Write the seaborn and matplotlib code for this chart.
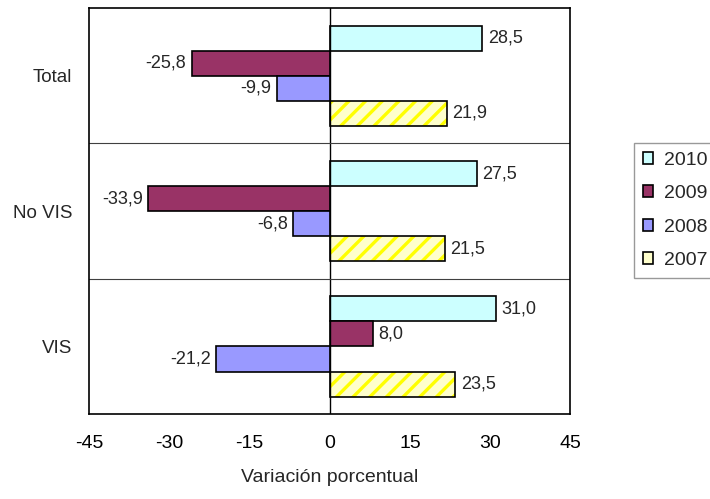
import pandas as pd
import seaborn as sns
import matplotlib.pyplot as plt
from matplotlib.colors import to_rgba

categorias = ["Total", "No VIS", "VIS"]
anios = ["2010", "2009", "2008", "2007"]
v2010 = [28.5, 27.5, 31.0]
v2009 = [-25.8, -33.9, 8.0]
v2008 = [-9.9, -6.8, -21.2]
v2007 = [21.9, 21.5, 23.5]
colores = ["#CCFFFF", "#993366", "#9999FF", "#FFFFCC"]

rows = []
for anio, vals in zip(anios, [v2010, v2009, v2008, v2007]):
    for cat, v in zip(categorias, vals):
        rows.append({"cat": cat, "anio": anio, "valor": v})
df = pd.DataFrame(rows)

sns.set_style("white")
plt.rcParams["font.family"] = ["Liberation Sans", "DejaVu Sans"]
plt.rcParams["axes.unicode_minus"] = False
plt.rcParams["hatch.linewidth"] = 2.4

fig = plt.figure(figsize=(7.1, 4.99), dpi=100)
ax = fig.add_axes([0.1255, 0.170, 0.678, 0.814])

sns.barplot(data=df, x="valor", y="cat", hue="anio", order=categorias,
            hue_order=anios, palette=colores, orient="h", width=0.74,
            edgecolor="black", linewidth=1.2, saturation=1, ax=ax)

# barras 2007 con rayas diagonales amarillas
for cont, anio in zip(ax.containers, anios):
    if anio == "2007":
        for p in cont:
            p.set_hatch("//")
            p._hatch_color = to_rgba("#FFFF00")
            p.stale = True

# etiquetas de valor
for cont in ax.containers:
    for p, v in zip(cont, cont.datavalues):
        lab = f"{v:.1f}".replace(".", ",")
        y = p.get_y() + p.get_height() / 2
        if v >= 0:
            ax.annotate(lab, (v, y), xytext=(4, 0), textcoords="offset points",
                        ha="left", va="center", fontsize=13)
        else:
            ax.annotate(lab, (v, y), xytext=(-4, 0), textcoords="offset points",
                        ha="right", va="center", fontsize=13)

ax.set_xlim(-45, 45)
ax.set_ylim(2.5, -0.5)
ax.set_xticks(range(-45, 46, 15))
ax.axvline(0, color="black", linewidth=1)
for b in [0.5, 1.5]:
    ax.axhline(b, color="#404040", linewidth=0.8)

for s in ax.spines.values():
    s.set_color("black")
    s.set_linewidth(1.2)
ax.tick_params(axis="x", direction="out", length=5, width=1, colors="black",
               labelsize=14, pad=10)
ax.tick_params(axis="y", length=0, labelsize=13.5, pad=12)
ax.set_ylabel("")
ax.set_xlabel("Variación porcentual", fontsize=14, labelpad=12)

leg = ax.legend(loc="lower left", bbox_to_anchor=(0.893, 0.443),
                bbox_transform=fig.transFigure, borderaxespad=0,
                frameon=True, fancybox=False, edgecolor="#808080", fontsize=14,
                handlelength=0.55, handleheight=0.55, handletextpad=0.55,
                labelspacing=0.85, borderpad=0.45)
leg.get_frame().set_linewidth(1)

fig.savefig("out.png", dpi=100)
